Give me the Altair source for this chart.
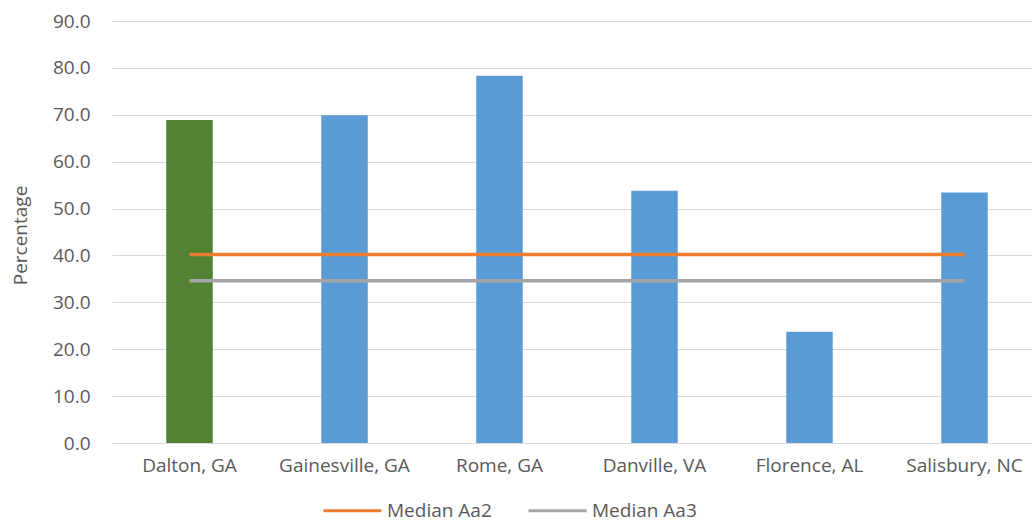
import altair as alt
import pandas as pd

# Share of population by city, with two reference medians
cities = ["Dalton, GA", "Gainesville, GA", "Rome, GA", "Danville, VA", "Florence, AL", "Salisbury, NC"]
values = [68.9, 69.9, 78.3, 53.8, 23.7, 53.4]
highlight = "Dalton, GA"

median_names = ["Median Aa2", "Median Aa3"]
median_values = [40.2, 34.6]
median_colors = ["#ED7D31", "#A5A5A5"]

y_ticks = [0, 10, 20, 30, 40, 50, 60, 70, 80, 90]

GREEN = "#548235"
BLUE = "#5B9BD5"
TEXT = "#595959"
GRID = "#D9D9D9"
FONT = "Open Sans"
FS = 19

bars_df = pd.DataFrame({"city": cities, "value": values})
lines_df = pd.DataFrame(
    [{"city": c, "series": n, "value": v} for n, v in zip(median_names, median_values) for c in cities]
)

x_scale = alt.Scale(domain=cities, range=[0, 930], paddingInner=0.7, paddingOuter=0.35)
y_scale = alt.Scale(domain=[0, 90], nice=False)

x_axis = alt.Axis(
    title=None, labelAngle=0, labelFontSize=FS, labelColor=TEXT, labelFont=FONT,
    labelPadding=13, domain=False, ticks=False, grid=False,
)
y_axis = alt.Axis(
    title="Percentage", values=y_ticks, format=".1f", labelFontSize=FS, labelColor=TEXT,
    labelFont=FONT, labelPadding=22, grid=True, domain=False, ticks=False,
    gridColor=GRID, gridWidth=1.2, titleFontSize=FS, titleColor=TEXT, titleFont=FONT,
    titleFontWeight="normal", titleAngle=270, titleX=-86, titleY=214,
    titleBaseline="alphabetic", titleAlign="center",
)

bars = alt.Chart(bars_df).mark_bar().encode(
    x=alt.X("city:N", scale=x_scale, axis=x_axis, sort=cities),
    y=alt.Y("value:Q", scale=y_scale, axis=y_axis),
    color=alt.condition(alt.datum.city == highlight, alt.value(GREEN), alt.value(BLUE)),
)

lines = alt.Chart(lines_df).mark_line(strokeWidth=3.5).encode(
    x=alt.X("city:N", scale=x_scale, sort=cities),
    y=alt.Y("value:Q", scale=y_scale),
    color=alt.Color(
        "series:N",
        scale=alt.Scale(domain=median_names, range=median_colors),
        legend=alt.Legend(
            title=None, orient="none", direction="horizontal", legendX=210, legendY=459,
            symbolType="stroke", symbolSize=3364, symbolStrokeWidth=3,
            labelFontSize=FS, labelColor=TEXT, labelFont=FONT, labelOffset=4,
            columnPadding=30,
        ),
    ),
)

chart = (
    alt.layer(bars, lines)
    .properties(
        width=920, height=422,
        background="white",
        autosize=alt.AutoSizeParams(type="none"),
        padding={"left": 112, "top": 21, "right": 0, "bottom": 80},
    )
    .configure_axis(domain=False, ticks=False)
    .configure_view(stroke=None)
)

chart.save("out.html", embed_options={"renderer": "svg", "actions": False})
